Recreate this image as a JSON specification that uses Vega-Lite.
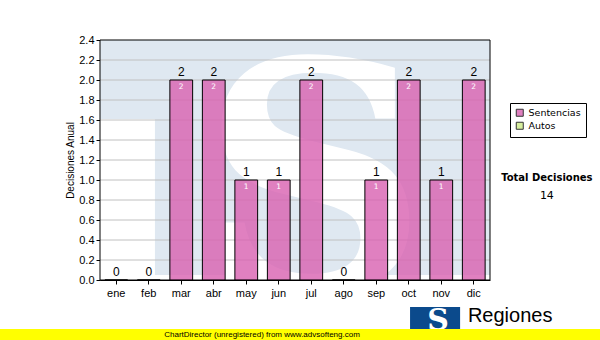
{
  "$schema": "https://vega.github.io/schema/vega-lite/v6.json",
  "width": 390,
  "height": 240,
  "autosize": "none",
  "padding": {"left": 100, "top": 40, "right": 110, "bottom": 60},
  "background": "white",
  "datasets": {
    "months": [
      {"mes": "ene", "serie": "Sentencias", "value": 0},
      {"mes": "feb", "serie": "Sentencias", "value": 0},
      {"mes": "mar", "serie": "Sentencias", "value": 2},
      {"mes": "abr", "serie": "Sentencias", "value": 2},
      {"mes": "may", "serie": "Sentencias", "value": 1},
      {"mes": "jun", "serie": "Sentencias", "value": 1},
      {"mes": "jul", "serie": "Sentencias", "value": 2},
      {"mes": "ago", "serie": "Sentencias", "value": 0},
      {"mes": "sep", "serie": "Sentencias", "value": 1},
      {"mes": "oct", "serie": "Sentencias", "value": 2},
      {"mes": "nov", "serie": "Sentencias", "value": 1},
      {"mes": "dic", "serie": "Sentencias", "value": 2}
    ],
    "grid": [
      {"g": 0.2}, {"g": 0.4}, {"g": 0.6}, {"g": 0.8}, {"g": 1.0}, {"g": 1.2},
      {"g": 1.4}, {"g": 1.6}, {"g": 1.8}, {"g": 2.0}, {"g": 2.2}
    ]
  },
  "data": {"values": [{}]},
  "config": {
    "view": {"stroke": null},
    "font": "Liberation Sans",
    "axis": {
      "domainColor": "black", "tickColor": "black", "labelColor": "black",
      "labelFont": "Liberation Sans", "labelFontSize": 11,
      "titleFont": "Liberation Sans", "titleFontSize": 10, "titleFontWeight": "normal", "titleColor": "black",
      "tickSize": 4, "grid": false
    },
    "legend": {
      "strokeColor": "black", "fillColor": "white", "padding": 5,
      "symbolType": "square", "symbolSize": 49, "symbolStrokeColor": "black", "symbolStrokeWidth": 1,
      "symbolOpacity": 0.8, "labelFont": "DejaVu Sans", "labelFontSize": 9.5, "labelColor": "black",
      "rowPadding": 1
    }
  },
  "layer": [
    {
      "layer": [
        {
          "mark": {"type": "rect", "color": "#dfe8f1"},
          "encoding": {
            "x": {"datum": 0, "type": "quantitative", "scale": {"domain": [0, 12], "nice": false, "zero": false}, "axis": null},
            "x2": {"datum": 12},
            "y": {"datum": 0.05, "type": "quantitative", "scale": {"domain": [0, 2.4], "nice": false, "zero": false}, "axis": null},
            "y2": {"datum": 2.4}
          }
        },
        {
          "mark": {"type": "rect", "color": "white"},
          "encoding": {
            "x": {"datum": 0, "type": "quantitative", "scale": {"domain": [0, 12], "nice": false, "zero": false}, "axis": null},
            "x2": {"datum": 1.69},
            "y": {"datum": 0, "type": "quantitative", "scale": {"domain": [0, 2.4], "nice": false, "zero": false}, "axis": null},
            "y2": {"datum": 1.61}
          }
        },
        {
          "mark": {"type": "text", "text": "S", "clip": true, "color": "white", "font": "DejaVu Serif", "fontWeight": "bold", "fontSize": 315, "align": "center", "baseline": "alphabetic"},
          "encoding": {
            "x": {"datum": 6.6, "type": "quantitative", "scale": {"domain": [0, 12], "nice": false, "zero": false}, "axis": null},
            "y": {"datum": -0.08, "type": "quantitative", "scale": {"domain": [0, 2.4], "nice": false, "zero": false}, "axis": null}
          }
        },
        {
          "data": {"name": "grid"},
          "mark": {"type": "rule", "color": "#c0c0c0", "strokeWidth": 1},
          "encoding": {
            "x": {"datum": 0, "type": "quantitative", "scale": {"domain": [0, 12], "nice": false, "zero": false}, "axis": null},
            "x2": {"datum": 12},
            "y": {"field": "g", "type": "quantitative", "scale": {"domain": [0, 2.4], "nice": false, "zero": false}, "axis": null}
          }
        },
        {
          "mark": {"type": "rect", "fillOpacity": 0, "stroke": "black", "strokeWidth": 1},
          "encoding": {
            "x": {"datum": 0, "type": "quantitative", "scale": {"domain": [0, 12], "nice": false, "zero": false}, "axis": null},
            "x2": {"datum": 12},
            "y": {"datum": 0, "type": "quantitative", "scale": {"domain": [0, 2.4], "nice": false, "zero": false}, "axis": null},
            "y2": {"datum": 2.4}
          }
        },
        {
          "mark": {"type": "rect", "color": "#0b4a8c"},
          "encoding": {
            "x": {"datum": 9.54, "type": "quantitative", "scale": {"domain": [0, 12], "nice": false, "zero": false}, "axis": null},
            "x2": {"datum": 11.08},
            "y": {"datum": -0.27, "type": "quantitative", "scale": {"domain": [0, 2.4], "nice": false, "zero": false}, "axis": null},
            "y2": {"datum": -0.52}
          }
        },
        {
          "mark": {"type": "text", "text": "S", "color": "white", "font": "DejaVu Serif", "fontWeight": "bold", "fontSize": 30, "align": "center", "baseline": "alphabetic"},
          "encoding": {
            "x": {"datum": 10.4, "type": "quantitative", "scale": {"domain": [0, 12], "nice": false, "zero": false}, "axis": null},
            "y": {"datum": -0.5, "type": "quantitative", "scale": {"domain": [0, 2.4], "nice": false, "zero": false}, "axis": null}
          }
        },
        {
          "mark": {"type": "rect", "color": "#ffff00"},
          "encoding": {
            "x": {"datum": -3.1, "type": "quantitative", "scale": {"domain": [0, 12], "nice": false, "zero": false}, "axis": null},
            "x2": {"datum": 15.4},
            "y": {"datum": -0.49, "type": "quantitative", "scale": {"domain": [0, 2.4], "nice": false, "zero": false}, "axis": null},
            "y2": {"datum": -0.62}
          }
        },
        {
          "mark": {"type": "text", "text": "ChartDirector (unregistered) from www.advsofteng.com", "color": "black", "font": "Liberation Sans", "fontSize": 8, "align": "center", "baseline": "middle"},
          "encoding": {
            "x": {"datum": 4.985, "type": "quantitative", "scale": {"domain": [0, 12], "nice": false, "zero": false}, "axis": null},
            "y": {"datum": -0.545, "type": "quantitative", "scale": {"domain": [0, 2.4], "nice": false, "zero": false}, "axis": null}
          }
        },
        {
          "mark": {"type": "text", "text": "Regiones", "color": "black", "font": "Liberation Sans", "fontSize": 20, "align": "left", "baseline": "alphabetic"},
          "encoding": {
            "x": {"datum": 11.32, "type": "quantitative", "scale": {"domain": [0, 12], "nice": false, "zero": false}, "axis": null},
            "y": {"datum": -0.42, "type": "quantitative", "scale": {"domain": [0, 2.4], "nice": false, "zero": false}, "axis": null}
          }
        },
        {
          "mark": {"type": "text", "text": "Total Decisiones", "color": "black", "font": "DejaVu Sans", "fontWeight": "bold", "fontSize": 10, "align": "center", "baseline": "middle"},
          "encoding": {
            "x": {"datum": 13.75, "type": "quantitative", "scale": {"domain": [0, 12], "nice": false, "zero": false}, "axis": null},
            "y": {"datum": 1.02, "type": "quantitative", "scale": {"domain": [0, 2.4], "nice": false, "zero": false}, "axis": null}
          }
        },
        {
          "data": {"name": "months"},
          "mark": {"type": "text", "color": "black", "font": "DejaVu Sans", "fontSize": 11, "align": "center", "baseline": "middle"},
          "encoding": {
            "text": {"aggregate": "sum", "field": "value", "type": "quantitative"},
            "x": {"datum": 13.75, "type": "quantitative", "scale": {"domain": [0, 12], "nice": false, "zero": false}, "axis": null},
            "y": {"datum": 0.84, "type": "quantitative", "scale": {"domain": [0, 2.4], "nice": false, "zero": false}, "axis": null}
          }
        }
      ]
    },
    {
      "data": {"name": "months"},
      "encoding": {
        "x": {
          "field": "mes", "type": "nominal", "sort": null,
          "scale": {"paddingInner": 0.3, "paddingOuter": 0.15},
          "axis": {"title": null, "labelAngle": 0, "labelPadding": 3, "domainColor": "black"}
        },
        "y": {
          "field": "value", "type": "quantitative",
          "scale": {"domain": [0, 2.4], "nice": false, "zero": false},
          "axis": {
            "title": "Decisiones Anual",
            "values": [0, 0.2, 0.4, 0.6, 0.8, 1.0, 1.2, 1.4, 1.6, 1.8, 2.0, 2.2, 2.4],
            "format": ".1f", "labelPadding": 2, "titlePadding": 3
          }
        }
      },
      "layer": [
        {
          "mark": {"type": "bar", "stroke": "black", "strokeWidth": 1, "fillOpacity": 0.8},
          "encoding": {
            "color": {
              "field": "serie", "type": "nominal",
              "scale": {"domain": ["Sentencias", "Autos"], "range": ["#d860b0", "#ceec88"]},
              "legend": {"title": null, "orient": "none", "legendX": 410, "legendY": 63}
            }
          }
        },
        {
          "mark": {"type": "text", "color": "black", "font": "Liberation Sans", "fontSize": 12, "baseline": "bottom", "dy": -1},
          "encoding": {"text": {"field": "value", "type": "quantitative"}}
        },
        {
          "transform": [{"filter": "datum.value > 0"}],
          "mark": {"type": "text", "color": "white", "font": "DejaVu Sans", "fontSize": 7.5, "baseline": "top", "dy": 3},
          "encoding": {"text": {"field": "value", "type": "quantitative"}}
        }
      ]
    }
  ],
  "resolve": {"scale": {"x": "independent", "y": "independent"}}
}
